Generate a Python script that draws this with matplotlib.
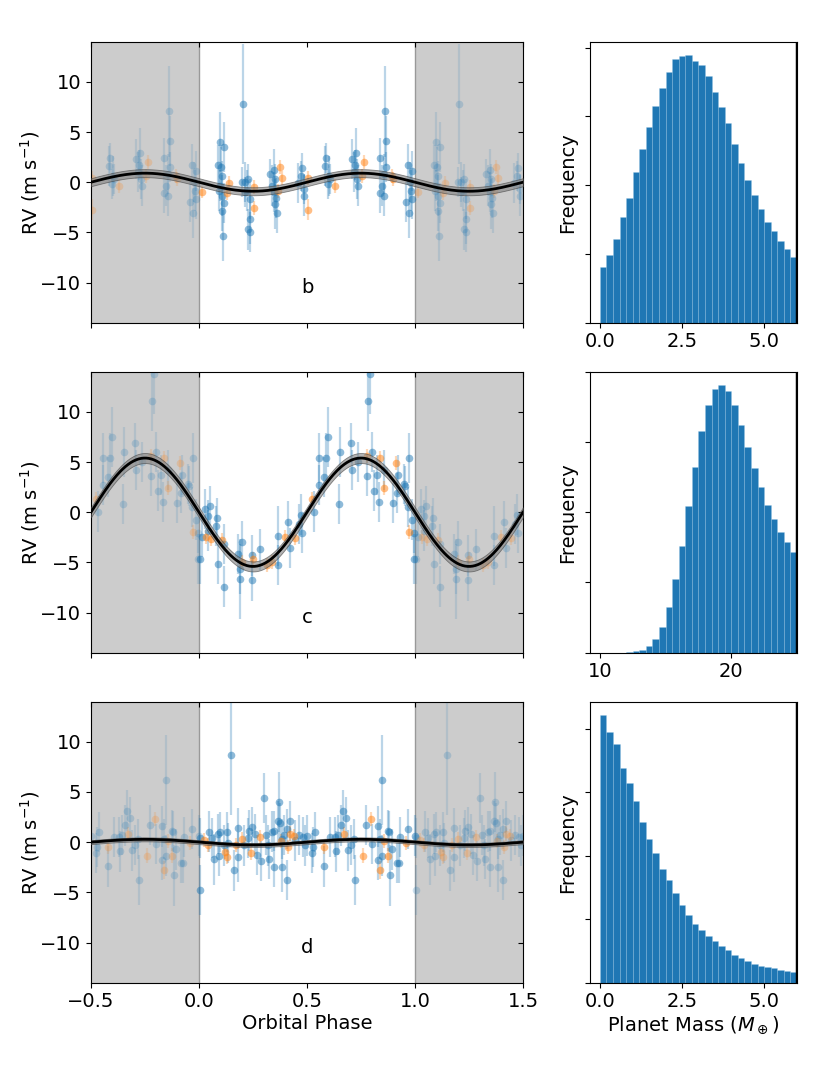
import numpy as np
import matplotlib
matplotlib.use("Agg")
import matplotlib.pyplot as plt
from matplotlib.ticker import MultipleLocator
from matplotlib.lines import TICKLEFT, TICKDOWN

# ---------------- data ----------------
# planet b (phase, rv, err)
b_blue = [
    (0.086,1.72,2.0),(0.099,3.98,3.0),(0.114,3.48,2.5),(0.102,1.49,2.0),(0.093,-0.83,2.0),
    (0.099,-0.33,1.5),(0.108,-1.33,2.0),(0.114,-2.06,2.0),(0.108,-2.82,2.0),(0.111,-5.31,2.5),
    (0.105,0.66,1.5),(0.204,7.79,6.0),(0.198,0.0,1.5),(0.213,0.0,2.0),(0.221,-0.83,2.0),
    (0.228,0.33,1.5),(0.236,-1.66,2.0),(0.236,-3.65,2.5),(0.228,-4.71,2.0),(0.238,-4.98,2.0),
    (0.213,-1.0,1.5),(0.330,0.83,1.5),(0.346,1.26,2.0),(0.352,0.33,1.5),(0.340,-0.33,2.0),
    (0.349,-1.0,2.0),(0.355,-1.59,2.0),(0.352,-2.16,2.5),(0.361,-3.05,2.0),(0.478,1.43,1.5),
    (0.472,0.66,1.5),(0.460,-0.07,2.0),(0.488,-0.66,1.5),(0.485,-1.33,2.0),(0.590,2.42,1.5),
    (0.583,1.59,2.0),(0.602,0.66,2.0),(0.608,0.33,1.5),(0.599,-0.17,1.5),(0.707,2.32,2.0),
    (0.728,2.92,2.5),(0.722,1.72,1.5),(0.716,1.0,2.0),(0.731,0.33,2.0),(0.735,-0.33,2.0),
    (0.861,7.06,4.5),(0.864,4.08,2.5),(0.840,2.42,2.0),(0.864,1.49,1.5),(0.855,0.83,2.0),
    (0.846,-0.33,2.0),(0.840,-1.06,2.0),(0.858,-1.33,2.0),(0.966,1.76,2.0),(0.988,1.09,2.0),
    (0.975,0.0,2.0),(0.981,-0.83,2.0),(0.985,-1.66,2.0),(0.960,-1.99,2.0),(0.972,-3.08,2.5),
]
b_orange = [
    (0.012,-0.93,0.6),(0.139,-0.07,0.7),(0.130,-1.06,0.7),(0.256,-0.50,0.7),(0.253,-2.59,0.7),
    (0.377,1.49,0.7),(0.386,0.43,0.7),(0.367,-0.83,0.7),(0.506,-2.72,1.0),(0.506,0.40,0.7),
    (0.630,-0.40,0.7),(0.762,1.99,0.7),(0.753,0.66,0.7),(0.892,0.66,0.7),(0.898,0.33,0.7),
]
# planet c
c_blue = [
    (0.049,0.66,2.0),(0.028,0.33,2.0),(0.040,-0.33,1.5),(0.083,-0.56,2.0),(0.080,-1.39,2.0),
    (0.043,-1.82,2.0),(0.012,-2.49,2.0),(0.003,-4.64,2.5),(0.114,-3.15,2.0),(0.090,-5.14,2.0),
    (0.114,-7.40,2.0),(0.182,-4.15,2.0),(0.200,-2.92,2.0),(0.191,-5.64,2.5),(0.188,-6.63,4.0),
    (0.244,-4.31,2.0),(0.244,-6.80,2.0),(0.284,-3.71,2.0),(0.364,-2.39,3.0),(0.367,-5.24,2.0),
    (0.414,-0.93,2.0),(0.423,-3.55,2.0),(0.463,-1.16,2.0),(0.475,-2.06,2.0),(0.472,-0.23,2.0),
    (0.534,0.07,2.0),(0.556,2.72,2.0),(0.556,5.37,2.5),(0.590,5.37,2.5),(0.596,7.46,3.0),
    (0.580,3.48,2.0),(0.648,0.80,2.0),(0.654,6.04,2.5),(0.704,6.90,2.0),(0.707,4.25,2.0),
    (0.738,4.98,2.0),(0.781,11.11,3.0),(0.793,13.80,4.0),(0.778,3.58,2.0),(0.799,5.97,2.0),
    (0.824,3.71,2.0),(0.812,2.16,2.0),(0.833,1.00,2.0),(0.858,4.25,2.0),(0.898,0.90,2.0),
    (0.917,1.92,2.0),(0.923,3.71,2.0),(0.948,2.82,2.0),(0.954,2.65,2.0),(0.972,5.41,2.5),
    (0.969,0.50,2.0),(0.985,-0.73,2.0),(0.994,-2.09,2.0),(0.997,-4.64,2.5),
]
c_orange = [
    (0.031,-2.49,0.7),(0.056,-2.65,0.7),(0.108,-2.72,0.7),(0.198,-5.0,0.7),(0.250,-4.7,0.7),
    (0.315,-5.24,0.7),(0.336,-4.98,0.7),(0.398,-2.49,0.7),(0.444,-2.59,0.7),(0.525,1.33,0.7),
    (0.778,5.57,0.7),(0.840,5.37,0.7),(0.855,2.45,0.7),(0.914,4.88,0.7),(0.972,-1.99,0.7),
]
# planet d
d_blue = [
    (0.003,0.40,2.0),(0.006,-4.74,2.5),(0.046,1.06,2.0),(0.062,0.40,2.0),(0.068,-1.72,2.5),
    (0.086,0.83,2.0),(0.093,-1.33,2.0),(0.099,1.00,2.0),(0.114,-0.33,2.0),(0.130,1.00,2.0),
    (0.133,-0.07,2.0),(0.148,8.69,6.0),(0.160,-2.82,2.0),(0.182,1.39,2.0),(0.182,-1.49,2.5),
    (0.210,-0.33,2.0),(0.225,0.40,2.0),(0.231,1.16,2.0),(0.247,1.49,2.0),(0.259,0.83,2.0),
    (0.269,-1.26,2.0),(0.287,-1.92,2.0),(0.299,4.38,2.5),(0.312,0.73,2.0),(0.318,-0.33,2.0),
    (0.324,-1.66,2.0),(0.336,1.06,2.0),(0.346,1.13,2.0),(0.349,-2.49,2.0),(0.364,2.06,2.0),
    (0.370,3.98,3.0),(0.377,1.92,2.0),(0.386,0.33,2.0),(0.383,-2.49,2.5),(0.395,0.73,2.0),
    (0.407,1.33,2.0),(0.407,-3.81,2.0),(0.423,2.12,2.0),(0.444,0.17,2.0),(0.463,0.73,2.0),
    (0.481,0.50,2.0),(0.491,-0.33,2.0),(0.500,0.66,2.0),(0.522,-1.06,2.0),(0.528,-0.50,2.0),
    (0.537,1.00,2.0),(0.580,-2.42,2.0),(0.605,0.53,2.0),(0.630,0.50,2.0),(0.636,-0.93,2.0),
    (0.642,0.73,2.0),(0.657,1.66,2.0),(0.667,3.15,2.0),(0.682,2.45,2.0),(0.691,-0.83,2.0),
    (0.704,-0.27,2.0),(0.716,0.33,2.0),(0.722,-3.81,2.5),(0.775,1.72,2.0),(0.802,-0.20,2.0),
    (0.827,1.56,2.0),(0.830,-1.79,2.0),(0.840,0.33,2.0),(0.849,6.17,4.5),(0.846,-1.33,2.0),
    (0.873,1.16,2.0),(0.880,1.06,2.0),(0.886,-3.32,3.0),(0.895,-0.73,2.0),(0.917,-2.06,2.0),
    (0.926,-2.09,2.0),(0.932,0.50,2.0),(0.966,1.33,2.0),(0.998,0.66,2.0),
]
d_orange = [
    (0.025,0.17,0.7),(0.040,-0.33,0.7),(0.120,-1.00,0.7),(0.130,-1.50,0.7),(0.170,-0.27,0.7),
    (0.201,0.33,0.7),(0.241,-1.06,0.7),(0.284,0.50,0.7),(0.380,0.07,0.7),(0.410,-0.50,0.7),
    (0.423,0.86,0.7),(0.438,0.60,0.7),(0.580,-0.50,0.7),(0.673,0.80,0.7),(0.759,-1.33,0.7),
    (0.796,2.32,0.7),(0.840,-2.82,0.9),(0.858,0.07,0.7),(0.877,-1.33,0.7),(0.960,-0.07,0.7),
]

planet_labels = ["b", "c", "d"]
model_K = [0.9, 5.4, 0.28]          # semi-amplitude of the fitted model (m/s)
model_band = [0.4, 0.5, 0.2]        # half-width of the model uncertainty band

# histograms of planet mass
mass_b_edges = np.linspace(0.0, 6.0, 31)
mass_b_counts = [0.81,0.99,1.22,1.54,1.81,2.19,2.53,2.84,3.15,3.41,3.65,3.84,3.88,3.89,3.81,
                 3.74,3.58,3.36,3.14,2.90,2.60,2.32,2.07,1.85,1.65,1.47,1.33,1.19,1.07,0.96]
mass_c_edges = np.linspace(10.0, 25.0, 31)
mass_c_counts = [0.0,0.0,0.001,0.002,0.005,0.02,0.04,0.09,0.19,0.37,0.65,1.05,1.52,2.09,2.64,
                 3.15,3.52,3.76,3.81,3.72,3.52,3.24,2.93,2.63,2.36,2.11,1.90,1.72,1.57,1.44]
mass_d_edges = np.linspace(0.0, 6.0, 31)
mass_d_counts = [4.22,3.96,3.77,3.38,3.15,2.86,2.54,2.27,2.05,1.80,1.62,1.42,1.22,1.07,0.93,
                 0.83,0.74,0.66,0.58,0.51,0.44,0.39,0.34,0.30,0.27,0.25,0.23,0.20,0.19,0.17]
hist_xlims = [(-0.3, 6.0), (9.25, 25.0), (-0.3, 6.0)]
hist_xticks = [[0.0, 2.5, 5.0], [10, 20], [0.0, 2.5, 5.0]]
hist_xticklabels = [["0.0", "2.5", "5.0"], ["10", "20"], ["0.0", "2.5", "5.0"]]

blue_sets = [b_blue, c_blue, d_blue]
orange_sets = [b_orange, c_orange, d_orange]
hist_edges = [mass_b_edges, mass_c_edges, mass_d_edges]
hist_counts = [mass_b_counts, mass_c_counts, mass_d_counts]

# ---------------- figure ----------------
FS = 14
fig = plt.figure(figsize=(8.3, 10.75), dpi=100)
C0 = "#1f77b4"
C1 = "#ff7f0e"

bottoms = [0.6998, 0.3928, 0.0859]
H = 0.2614

for i in range(3):
    ax = fig.add_axes([0.1096, bottoms[i], 0.5205, H])
    ax.axvspan(-0.5, 0.0, color="#cccccc", zorder=0, lw=0)
    ax.axvspan(1.0, 1.5, color="#cccccc", zorder=0, lw=0)
    ax.axvline(0.0, color="#999999", lw=1.0, zorder=0.5)
    ax.axvline(1.0, color="#999999", lw=1.0, zorder=0.5)

    for data, col in ((blue_sets[i], C0), (orange_sets[i], C1)):
        arr = np.array(data)
        ph, rv, er = arr[:, 0], arr[:, 1], arr[:, 2]
        for shift in (-1.0, 0.0, 1.0):
            p = ph + shift
            m = (p >= -0.5) & (p <= 1.5)
            ea = 0.3 if shift == 0 else 0.15
            ma = 0.5 if shift == 0 else 0.22
            ax.errorbar(p[m], rv[m], yerr=er[m], fmt="none", ecolor=col,
                        elinewidth=1.6, capsize=0, alpha=ea, zorder=2)
            ax.plot(p[m], rv[m], "o", color=col, ms=5.5, mew=0, alpha=ma, zorder=2.1)

    phase_grid = np.linspace(-0.5, 1.5, 500)
    model = -model_K[i] * np.sin(2 * np.pi * phase_grid)
    ax.fill_between(phase_grid, model - model_band[i], model + model_band[i],
                    facecolor="#808080", alpha=0.6, edgecolor="#404040", lw=0.6, zorder=3)
    ax.plot(phase_grid, model, color="black", lw=2.0, zorder=4)

    ax.text(0.5, -10.5, planet_labels[i], ha="center", va="center", fontsize=FS)
    ax.set_xlim(-0.5, 1.5)
    ax.set_ylim(-14, 14)
    ax.set_xticks([-0.5, 0.0, 0.5, 1.0, 1.5])
    ax.set_yticks([-10, -5, 0, 5, 10])
    ax.tick_params(direction="out", top=True, right=True, labelsize=FS, length=3.5)
    ax.set_ylabel(r"RV (m s$^{-1}$)", fontsize=FS, labelpad=-1)
    if i < 2:
        ax.set_xticklabels([])
    else:
        ax.set_xticklabels(["−0.5", "0.0", "0.5", "1.0", "1.5"])
        ax.set_xlabel("Orbital Phase", fontsize=FS, labelpad=2)
    # right and top ticks point inward
    for t in ax.yaxis.get_major_ticks():
        t.tick2line.set_marker(TICKLEFT)
    for t in ax.xaxis.get_major_ticks():
        t.tick2line.set_marker(TICKDOWN)

    # histogram
    hx = fig.add_axes([0.7108, bottoms[i], 0.2494, H])
    edges = hist_edges[i]
    counts = np.array(hist_counts[i]) * 1000
    hx.bar(edges[:-1], counts, width=np.diff(edges), align="edge", color=C0,
           edgecolor=(0.6, 0.78, 0.9, 0.35), linewidth=0.5)
    hx.axvline(hist_xlims[i][1], color="black", lw=2.5)
    hx.set_xlim(*hist_xlims[i])
    hx.set_ylim(0, max(counts) * 1.05)
    hx.yaxis.set_major_locator(MultipleLocator(1000))
    hx.set_yticklabels([])
    hx.set_xticks(hist_xticks[i])
    hx.set_xticklabels(hist_xticklabels[i])
    hx.tick_params(direction="out", labelsize=FS, length=3.5)
    hx.set_ylabel("Frequency", fontsize=FS, labelpad=2)
    if i == 2:
        hx.set_xlabel(r"Planet Mass ($M_\oplus$)", fontsize=FS, labelpad=2)

fig.savefig("out.png", dpi=100)
